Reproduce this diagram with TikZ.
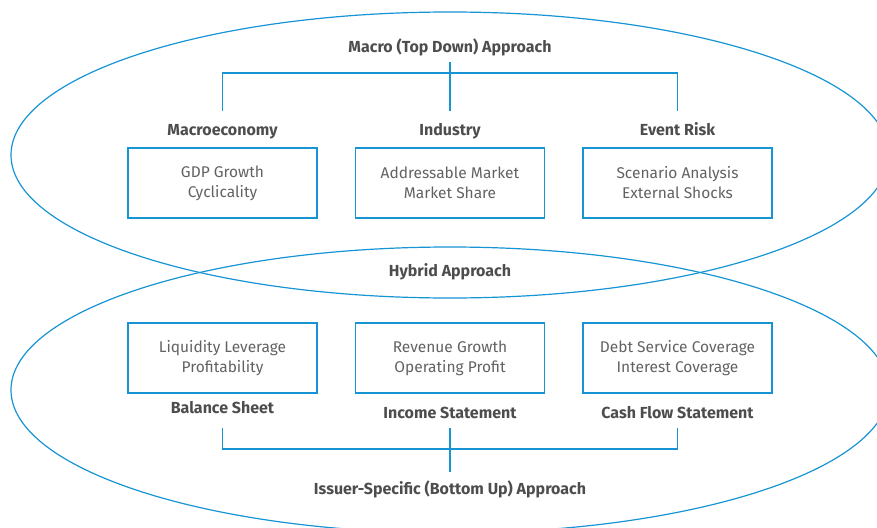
\documentclass[tikz,border=0pt]{standalone}
\usepackage{fontspec}
\setmainfont{Fira Sans}
\usepackage{tikz}
\usetikzlibrary{positioning,calc}
\definecolor{ApproachBlue}{RGB}{22,148,212}
\definecolor{HeadGray}{HTML}{4D4D4D}
\definecolor{MetricGray}{HTML}{626262}

\tikzset{
  metricbox/.style={draw=ApproachBlue,line width=1.3pt,minimum width=189pt,minimum height=70pt,
    align=center,text=MetricGray,font=\fontsize{15.5}{20}\selectfont,inner sep=0pt,
    execute at begin node={\rule{0pt}{15pt}}},
  headlabel/.style={text=HeadGray,font=\fontsize{16}{18}\selectfont\bfseries,inner sep=0pt,
    text height=11.5pt,text depth=3.5pt},
  link/.style={draw=ApproachBlue,line width=1.3pt}
}

\begin{document}
\begin{tikzpicture}[x=1pt,y=-1pt]
  \useasboundingbox (0,0) rectangle (877,527);
  \clip (0,0) rectangle (877,527);
  \draw[ApproachBlue,line width=1.2pt] (450,155) ellipse [x radius=439,y radius=143];
  \draw[ApproachBlue,line width=1.2pt] (450,390) ellipse [x radius=439,y radius=143];

  % top down
  \node[headlabel,outer sep=6pt] (macro) at (450,48.5) {Macro (Top Down) Approach};
  \node[headlabel,outer sep=13pt] (mecon) at (222.5,131.5) {Macroeconomy};
  \node[headlabel,outer sep=13pt] (indus) at (450,131.5) {Industry};
  \node[headlabel,outer sep=13pt] (erisk) at (677.5,131.5) {Event Risk};
  \node[metricbox] (gdp) at (222.5,183) {GDP Growth\\Cyclicality};
  \node[metricbox] (market) at (450,183) {Addressable Market\\Market Share};
  \node[metricbox] (scen) at (677.5,183) {Scenario Analysis\\External Shocks};
  \coordinate (topbar) at (450,73);
  \draw[link] (mecon.north) |- (topbar) -| (erisk.north);
  \draw[link] (macro.south) -- (indus.north);

  \node[headlabel] (hybrid) at (450,272.5) {Hybrid Approach};

  % bottom up
  \node[metricbox] (liq) at (222.5,358) {Liquidity Leverage\\Profitability};
  \node[metricbox] (rev) at (450,358) {Revenue Growth\\Operating Profit};
  \node[metricbox] (debt) at (677.5,358) {Debt Service Coverage\\Interest Coverage};
  \node[headlabel,outer sep=11pt] (bsheet) at (222.5,409.5) {Balance Sheet};
  \node[headlabel,outer sep=6pt] (istate) at (450,414.5) {Income Statement};
  \node[headlabel,outer sep=6pt] (cfstate) at (677.5,414.5) {Cash Flow Statement};
  \node[headlabel,outer sep=11pt] (issuer) at (450,490.5) {Issuer-Specific (Bottom Up) Approach};
  \coordinate (botbar) at (450,449);
  \draw[link] (bsheet.south) |- (botbar) -| (cfstate.south);
  \draw[link] (istate.south) -- (issuer.north);
\end{tikzpicture}
\end{document}
